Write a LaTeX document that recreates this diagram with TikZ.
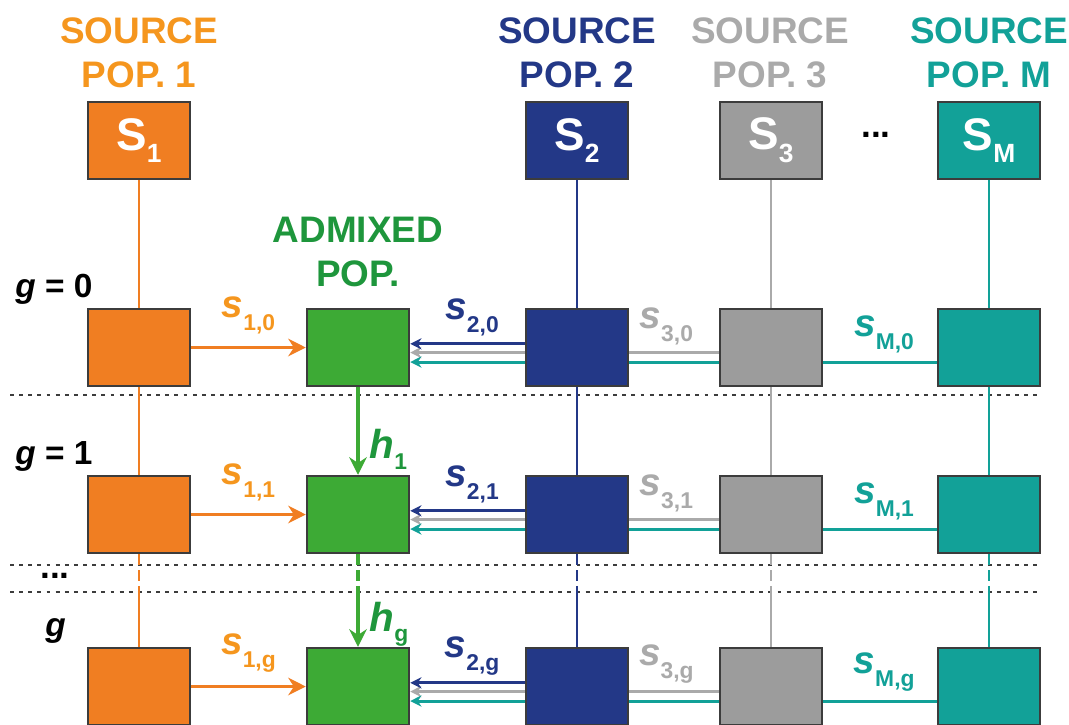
\documentclass[tikz,border=0pt]{standalone}
\usepackage{fontspec}
\setmainfont{Liberation Sans}
\usetikzlibrary{arrows.meta,backgrounds}

\definecolor{orng}{RGB}{240,126,34}
\definecolor{orngtxt}{RGB}{245,150,30}
\definecolor{grn}{RGB}{61,170,53}
\definecolor{grntxt}{RGB}{30,150,60}
\definecolor{blu}{RGB}{35,56,135}
\definecolor{gry}{RGB}{156,156,156}
\definecolor{grytxt}{RGB}{170,170,170}
\definecolor{tea}{RGB}{18,161,152}
\definecolor{edge}{RGB}{60,60,60}

\newcommand{\bsub}[1]{\raisebox{-3.6pt}{\fontsize{7.5}{8}\selectfont #1}}
\newcommand{\slab}[1]{\fontsize{11}{12}\selectfont\itshape s\raisebox{-3.7pt}{\upshape\fontsize{6.5}{7}\selectfont #1}}
\newcommand{\hlab}[1]{\fontsize{11.5}{12}\selectfont\itshape h\raisebox{-3pt}{\upshape\fontsize{6.5}{7}\selectfont #1}}

\begin{document}
\begin{tikzpicture}[
        box/.style={rectangle, draw=edge, line width=0.7pt, minimum width=1.02cm, minimum height=0.77cm, inner sep=0pt, text=white, font=\bfseries\fontsize{13}{14}\selectfont},
        title/.style={align=center, font=\bfseries\fontsize{10.5}{12.5}\selectfont},
        genlabel/.style={anchor=base west, font=\bfseries\fontsize{9.5}{11}\selectfont},
        dots/.style={font=\bfseries\fontsize{10}{12}\selectfont},
        vline/.style={line width=0.75pt},
        vdash/.style={line width=0.75pt, dash pattern=on 3pt off 1.5pt},
        bigarrow/.style={-{Stealth[length=5pt,width=5pt]}, line width=1pt},
        arrow/.style={-{Stealth[length=3.2pt,width=3.2pt]}, line width=0.85pt},
        lbl/.style={above=0.8pt, inner sep=1pt, font=\bfseries},
        sep/.style={line width=0.5pt, edge, dash pattern=on 1.1pt off 1.5pt}
    ]
        \useasboundingbox (0,0) rectangle (10.69,-7.24);

        % titles
        \node[title, text=orngtxt] (t1) at (1.39,-0.53) {SOURCE\\POP. 1};
        \node[title, text=blu] (t2) at (5.77,-0.53) {SOURCE\\POP. 2};
        \node[title, text=grytxt] (t3) at (7.70,-0.53) {SOURCE\\POP. 3};
        \node[title, text=tea] (tm) at (9.89,-0.53) {SOURCE\\POP. M};
        \node[title, text=grntxt] (tad) at (3.58,-2.52) {ADMIXED\\POP.};

        % source populations
        \node[box, fill=orng] (s1) at (1.39,-1.405) {S\bsub{1}};
        \node[box, fill=blu] (s2) at (5.77,-1.405) {S\bsub{2}};
        \node[box, fill=gry] (s3) at (7.71,-1.405) {S\bsub{3}};
        \node[box, fill=tea] (sm) at (9.89,-1.405) {S\bsub{M}};
        \node[dots] (topdots) at (8.76,-1.35) {...};

        % generations
        \node[genlabel] (g0) at (0.03,-2.97) {{\itshape g} = 0};
        \node[genlabel] (g1) at (0.03,-4.64) {{\itshape g} = 1};
        \node[genlabel] (gg) at (0.33,-6.36) {\itshape g};
        \node[dots] (gdots) at (0.55,-5.76) {...};

        \node[box, fill=orng] (p10) at (1.39,-3.475) {};
        \node[box, fill=grn] (ad0) at (3.58,-3.475) {};
        \node[box, fill=blu] (p20) at (5.77,-3.475) {};
        \node[box, fill=gry] (p30) at (7.71,-3.475) {};
        \node[box, fill=tea] (pm0) at (9.89,-3.475) {};

        \node[box, fill=orng] (p11) at (1.39,-5.145) {};
        \node[box, fill=grn] (ad1) at (3.58,-5.145) {};
        \node[box, fill=blu] (p21) at (5.77,-5.145) {};
        \node[box, fill=gry] (p31) at (7.71,-5.145) {};
        \node[box, fill=tea] (pm1) at (9.89,-5.145) {};

        \node[box, fill=orng] (p1g) at (1.39,-6.865) {};
        \node[box, fill=grn] (adg) at (3.58,-6.865) {};
        \node[box, fill=blu] (p2g) at (5.77,-6.865) {};
        \node[box, fill=gry] (p3g) at (7.71,-6.865) {};
        \node[box, fill=tea] (pmg) at (9.89,-6.865) {};

        % separators
        \coordinate (sepa) at (0.10,-3.95);
        \coordinate (sepaend) at (10.37,-3.95);
        \coordinate (sepb) at (0.10,-5.65);
        \coordinate (sepbend) at (10.37,-5.65);
        \coordinate (sepc) at (0.10,-5.92);
        \coordinate (sepcend) at (10.37,-5.92);
        \draw[sep] (sepa) -- (sepaend);
        \draw[sep] (sepb) -- (sepbend);
        \draw[sep] (sepc) -- (sepcend);

        % lineages
        \draw[vline, orng] (s1) -- (p10);
        \draw[vline, orng] (p10) -- (p11);
        \draw[vdash, orng] (p11) -- (p11 |- sepc);
        \draw[vline, orng] (p11 |- sepc) -- (p1g);

        \draw[bigarrow, grn] (ad0) -- node[pos=0.71, right=2.8pt, inner sep=0pt, text=grntxt, font=\bfseries]{\hlab{1}} (ad1);
        \draw[vdash, grn, line width=1pt] (ad1) -- (ad1 |- sepc);
        \draw[bigarrow, grn] (ad1 |- sepc) -- node[pos=0.59, right=2.8pt, inner sep=0pt, text=grntxt, font=\bfseries]{\hlab{g}} (adg);

        \draw[vline, blu] (s2) -- (p20);
        \draw[vline, blu] (p20) -- (p21);
        \draw[vdash, blu] (p21) -- (p21 |- sepc);
        \draw[vline, blu] (p21 |- sepc) -- (p2g);

        \draw[vline, grytxt] (s3) -- (p30);
        \draw[vline, grytxt] (p30) -- (p31);
        \draw[vdash, grytxt] (p31) -- (p31 |- sepc);
        \draw[vline, grytxt] (p31 |- sepc) -- (p3g);

        \draw[vline, tea] (sm) -- (pm0);
        \draw[vline, tea] (pm0) -- (pm1);
        \draw[vdash, tea] (pm1) -- (pm1 |- sepc);
        \draw[vline, tea] (pm1 |- sepc) -- (pmg);

        % contributions
        \draw[bigarrow, orng] (p10) -- node[lbl, above=1.6pt, text=orngtxt]{\slab{1,0}} (ad0);
        \draw[bigarrow, orng] (p11) -- node[lbl, above=1.6pt, text=orngtxt]{\slab{1,1}} (ad1);
        \draw[bigarrow, orng] (p1g) -- node[lbl, above=1.6pt, text=orngtxt]{\slab{1,g}} (adg);

        \draw[arrow, blu] ([yshift=0.37mm]p20.west) -- node[lbl, pos=0.46, text=blu]{\slab{2,0}} ([yshift=0.37mm]ad0.east);
        \draw[arrow, blu] ([yshift=0.37mm]p21.west) -- node[lbl, pos=0.46, text=blu]{\slab{2,1}} ([yshift=0.37mm]ad1.east);
        \draw[arrow, blu] ([yshift=0.37mm]p2g.west) -- node[lbl, pos=0.46, text=blu]{\slab{2,g}} ([yshift=0.37mm]adg.east);

        \begin{scope}[on background layer]
            \draw[arrow, grytxt] ([yshift=-0.5mm]p30.west) -- node[lbl, pos=0.17, text=grytxt]{\slab{3,0}} ([yshift=-0.5mm]ad0.east);
            \draw[arrow, grytxt] ([yshift=-0.5mm]p31.west) -- node[lbl, pos=0.17, text=grytxt]{\slab{3,1}} ([yshift=-0.5mm]ad1.east);
            \draw[arrow, grytxt] ([yshift=-0.5mm]p3g.west) -- node[lbl, pos=0.17, text=grytxt]{\slab{3,g}} ([yshift=-0.5mm]adg.east);

            \draw[arrow, tea] ([yshift=-1.45mm]pm0.west) -- node[lbl, pos=0.10, above=0.4pt, text=tea]{\slab{M,0}} ([yshift=-1.45mm]ad0.east);
            \draw[arrow, tea] ([yshift=-1.45mm]pm1.west) -- node[lbl, pos=0.10, above=0.4pt, text=tea]{\slab{M,1}} ([yshift=-1.45mm]ad1.east);
            \draw[arrow, tea] ([yshift=-1.45mm]pmg.west) -- node[lbl, pos=0.10, above=0.4pt, text=tea]{\slab{M,g}} ([yshift=-1.45mm]adg.east);
        \end{scope}
    \end{tikzpicture}
\end{document}
